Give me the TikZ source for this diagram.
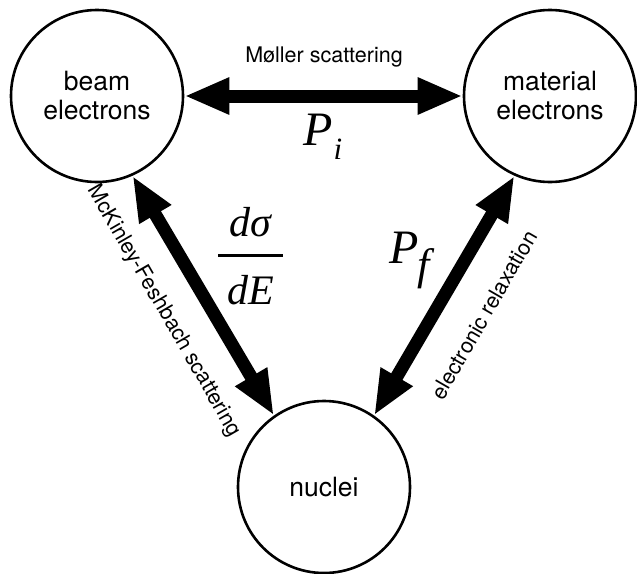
\documentclass[tikz,border=0pt]{standalone}
\usepackage{fontspec}
\setmainfont{TeX Gyre Heros}
\newfontfamily\tms{Liberation Serif}
\usetikzlibrary{arrows.meta}
\begin{document}
\begin{tikzpicture}[x=1pt,y=-1pt,
  state/.style={circle,draw,line width=2.6pt,minimum size=172pt,inner sep=0pt,outer sep=1.3pt,align=center,font=\fontsize{26.5}{29}\selectfont},
  fatarrow/.style={line width=13pt,{Triangle[width=34pt,length=45pt]}-{Triangle[width=34pt,length=45pt]}},
  lbl/.style={font=\fontsize{21.5}{24}\selectfont,inner sep=0pt},
  mth/.style={font=\fontsize{48}{50}\selectfont\tms\itshape,inner sep=0pt}]
\useasboundingbox (0,0) rectangle (637,573);
\node[state] (beam) at (97,96) {beam\\electrons};
\node[state] (mat) at (550,96) {material\\electrons};
\node[state] (nuc) at (324,487) {nuclei};
\draw[fatarrow] (beam.east) -- (mat.west);
\draw[fatarrow] (beam.-66) -- (nuc.125);
\draw[fatarrow] (mat.246) -- (nuc.55);
\node[lbl] (moller) at (324,57) {Møller scattering};
\node[lbl,rotate=-60] (mck) at (164,311) {McKinley-Feshbach scattering};
\node[lbl,rotate=60] (rel) at (484,315) {electronic relaxation};
\node[mth,anchor=base west] (pi) at (303,145) {P\kern1pt\raisebox{-14pt}{\fontsize{31}{31}\selectfont i}};
\node[mth,anchor=base west] (pf) at (389,263) {P\kern-1pt\raisebox{-16pt}{\fontsize{44}{44}\selectfont f}};
\node[mth,anchor=center] (dsde) at (250.5,256) {\vbox{\hbox to 65pt{\hss\fontsize{42}{42}\selectfont dσ\hss}\kern17pt\hrule height 3.5pt\kern18pt\hbox to 65pt{\hss\fontsize{42}{42}\selectfont dE\hss}}};
\end{tikzpicture}
\end{document}
